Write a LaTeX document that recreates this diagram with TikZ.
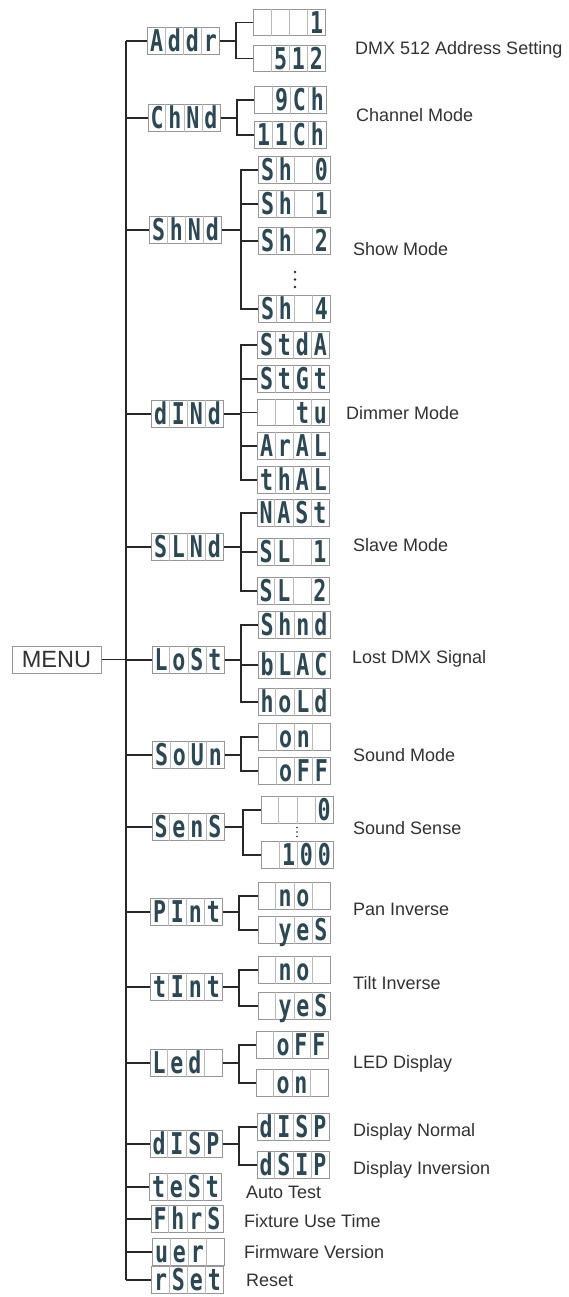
\documentclass[tikz,border=0pt]{standalone}
\usepackage{fontspec}
\setmainfont{Liberation Sans}
\newfontfamily\segfont[FakeStretch=0.72]{DejaVu Sans Mono}
\usetikzlibrary{calc}
\definecolor{segc}{RGB}{44,72,84}
\definecolor{boxc}{RGB}{150,150,150}
\definecolor{cellc}{RGB}{185,185,185}
\definecolor{linec}{RGB}{40,40,40}
\definecolor{labc}{RGB}{50,50,50}
\tikzset{
  dbox/.style={draw=boxc, line width=1pt, inner sep=0pt, minimum width=72pt,
    minimum height=26.5pt, text height=24pt, text depth=2.5pt, text=segc,
    font=\segfont\bfseries\fontsize{30}{30}\selectfont},
  cellline/.style={draw=cellc, line width=0.8pt},
  conn/.style={draw=linec, line width=1.1pt},
  lab/.style={anchor=west, inner sep=0pt, text height=12.9pt, text depth=0pt,
    text=labc, font=\fontsize{18}{18}\selectfont},
  menubox/.style={draw=boxc, line width=1pt, inner sep=0pt, minimum width=89pt,
    minimum height=27pt, text=labc, font=\fontsize{23.5}{23.5}\selectfont},
  dotmark/.style={fill=linec},
}
\newcommand\cellx[1]{\makebox[18pt][c]{#1}}
\newcommand\disp[6]{%
  \node[dbox] (#1) at (#2) {\cellx{#3}\cellx{#4}\cellx{#5}\cellx{#6}};
  \foreach \f in {0.25,0.5,0.75}{\draw[cellline] ($(#1.north west)!\f!(#1.north east)$) -- ($(#1.south west)!\f!(#1.south east)$);}%
}
\newcommand\branch[3]{\draw[conn] (#1.east) -- (#1.east -| #2) |- (#3.west);}
\begin{document}
\begin{tikzpicture}[x=1pt,y=-1pt]
\useasboundingbox (0,0) rectangle (569,1297);
\clip (0,0) rectangle (569,1297);
\fill[white] (0,0) rectangle (569,1297);

% MENU
\node[menubox] (menu) at (56.5,659.5) {MENU};
\coordinate (T) at (126,0);

% level 1
\disp{Addr}{183.5,41}{A}{d}{d}{r}
\disp{ChNd}{184,118}{C}{h}{N}{d}
\disp{ShNd}{185.5,230}{S}{h}{N}{d}
\disp{dINd}{187.5,414}{d}{I}{N}{d}
\disp{SLNd}{187.5,547}{S}{L}{N}{d}
\disp{LoSt}{188,660}{L}{o}{S}{t}
\disp{SoUn}{188.5,755}{S}{o}{U}{n}
\disp{SEnS}{188,827}{S}{e}{n}{S}
\disp{PInt}{186.5,912}{P}{I}{n}{t}
\disp{tInt}{186.5,987}{t}{I}{n}{t}
\disp{LEd}{186,1063}{L}{e}{d}{}
\disp{dISP}{186,1144}{d}{I}{S}{P}
\disp{tESt}{185.5,1187}{t}{e}{S}{t}
\disp{FhrS}{187,1219}{F}{h}{r}{S}
\disp{vEr}{188.5,1252}{u}{e}{r}{}
\disp{rSEt}{187.5,1280}{r}{S}{e}{t}

% trunk
\draw[conn] (menu.east) -- (T |- menu.east);
\draw[conn] (T |- Addr.west) -- (T |- rSEt.west);
\foreach \n in {Addr,ChNd,ShNd,dINd,SLNd,LoSt,SoUn,SEnS,PInt,tInt,LEd,dISP,tESt,FhrS,vEr,rSEt}
  {\draw[conn] (T |- \n.west) -- (\n.west);}

% level 2
\coordinate (bA) at (236,0);
\disp{a1}{289.5,22.5}{}{}{}{1}
\disp{a2}{289.5,58.5}{}{5}{1}{2}
\branch{Addr}{bA}{a1}\branch{Addr}{bA}{a2}

\coordinate (bC) at (237,0);
\disp{c1}{290.5,100}{}{9}{C}{h}
\disp{c2}{290.5,135}{1}{1}{C}{h}
\branch{ChNd}{bC}{c1}\branch{ChNd}{bC}{c2}

\coordinate (bS) at (241,0);
\disp{s0}{294.5,170}{S}{h}{}{0}
\disp{s1}{294.5,204}{S}{h}{}{1}
\disp{s2}{294.5,241}{S}{h}{}{2}
\disp{s4}{294.5,309}{S}{h}{}{4}
\foreach \c in {s0,s1,s2,s4}{\branch{ShNd}{bS}{\c}}
\foreach \yy in {272,279.5,287}{\fill[dotmark] (295,\yy) circle (1.4pt);}

\coordinate (bD) at (241,0);
\disp{d1}{293.5,345}{S}{t}{d}{A}
\disp{d2}{293.5,379}{S}{t}{G}{t}
\disp{d3}{293.5,412.5}{}{}{t}{u}
\disp{d4}{293.5,446}{A}{r}{A}{L}
\disp{d5}{293.5,480}{t}{h}{A}{L}
\foreach \c in {d1,d2,d3,d4,d5}{\branch{dINd}{bD}{\c}}

\coordinate (bN) at (241,0);
\disp{n1}{293,513}{N}{A}{S}{t}
\disp{n2}{293,552}{S}{L}{}{1}
\disp{n3}{293,591}{S}{L}{}{2}
\foreach \c in {n1,n2,n3}{\branch{SLNd}{bN}{\c}}

\coordinate (bL) at (241,0);
\disp{l1}{294,625}{S}{h}{n}{d}
\disp{l2}{294,665}{b}{L}{A}{C}
\disp{l3}{294,702}{h}{o}{L}{d}
\foreach \c in {l1,l2,l3}{\branch{LoSt}{bL}{\c}}

\coordinate (bO) at (241,0);
\disp{o1}{294.5,737}{}{o}{n}{}
\disp{o2}{294.5,771}{}{o}{F}{F}
\foreach \c in {o1,o2}{\branch{SoUn}{bO}{\c}}

\coordinate (bE) at (243,0);
\disp{e1}{297,810}{}{}{}{0}
\disp{e2}{297.5,855}{}{1}{0}{0}
\foreach \c in {e1,e2}{\branch{SEnS}{bE}{\c}}
\foreach \yy in {827.5,832,836.5}{\fill[dotmark] (297,\yy) circle (0.9pt);}

\coordinate (bP) at (239,0);
\disp{p1}{294,896}{}{n}{o}{}
\disp{p2}{294,930}{}{y}{e}{S}
\foreach \c in {p1,p2}{\branch{PInt}{bP}{\c}}

\coordinate (bT) at (239,0);
\disp{t1}{294,970}{}{n}{o}{}
\disp{t2}{294,1006}{}{y}{e}{S}
\foreach \c in {t1,t2}{\branch{tInt}{bT}{\c}}

\coordinate (bF) at (239,0);
\disp{f1}{292,1045}{}{o}{F}{F}
\disp{f2}{292,1083}{}{o}{n}{}
\foreach \c in {f1,f2}{\branch{LEd}{bF}{\c}}

\coordinate (bI) at (239,0);
\disp{i1}{293,1127}{d}{I}{S}{P}
\disp{i2}{293,1165}{d}{S}{I}{P}
\foreach \c in {i1,i2}{\branch{dISP}{bI}{\c}}

% labels
\node[lab] (L1) at (355,48) {DMX 512 Address Setting};
\node[lab] (L2) at (356,115) {Channel Mode};
\node[lab] (L3) at (353,249) {Show Mode};
\node[lab] (L4) at (346,413) {Dimmer Mode};
\node[lab] (L5) at (353,545) {Slave Mode};
\node[lab] (L6) at (352,657) {Lost DMX Signal};
\node[lab] (L7) at (353,755) {Sound Mode};
\node[lab] (L8) at (353,828) {Sound Sense};
\node[lab] (L9) at (353,909) {Pan Inverse};
\node[lab] (L10) at (353,983) {Tilt Inverse};
\node[lab] (L11) at (353,1062) {LED Display};
\node[lab] (L12) at (353,1130) {Display Normal};
\node[lab] (L13) at (353,1168) {Display Inversion};
\node[lab] (L14) at (246,1192) {Auto Test};
\node[lab] (L15) at (244,1221) {Fixture Use Time};
\node[lab] (L16) at (244,1252) {Firmware Version};
\node[lab] (L17) at (246,1280) {Reset};
\end{tikzpicture}
\end{document}
